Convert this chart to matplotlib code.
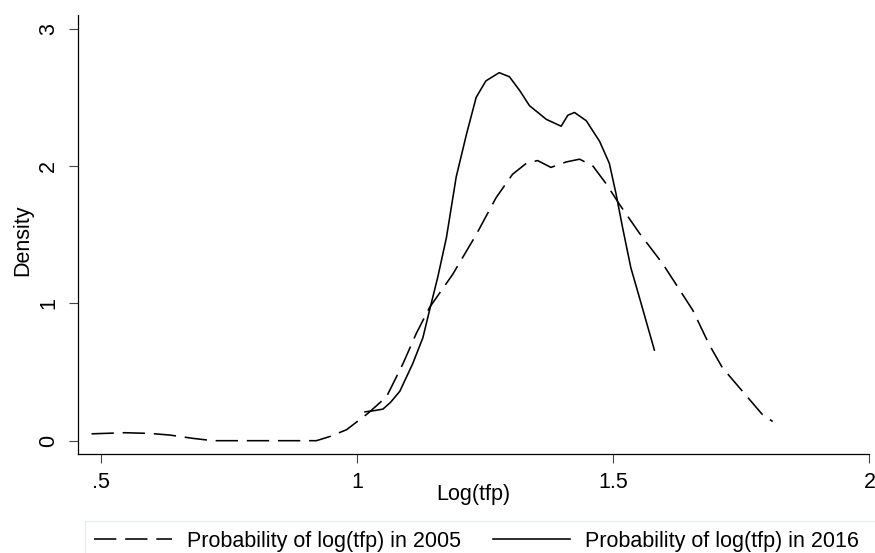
import matplotlib
matplotlib.use("Agg")
import matplotlib.pyplot as plt
from matplotlib.patches import Rectangle

plt.rcParams['font.family'] = ['Liberation Sans', 'DejaVu Sans']

# kernel density of log(tfp), 2005 (dashed)
x_2005 = [0.481, 0.546, 0.595, 0.634, 0.679, 0.718, 0.80, 0.920, 0.946, 0.979,
          1.021, 1.057, 1.089, 1.115, 1.141, 1.186, 1.232, 1.271, 1.303, 1.330,
          1.352, 1.378, 1.408, 1.434, 1.460, 1.486, 1.512, 1.551, 1.596, 1.629,
          1.655, 1.687, 1.713, 1.752, 1.791, 1.811]
y_2005 = [0.050, 0.058, 0.053, 0.041, 0.017, 0.0, 0.0, 0.0, 0.03, 0.08,
          0.20, 0.32, 0.56, 0.78, 0.97, 1.21, 1.50, 1.77, 1.94, 2.02,
          2.04, 1.99, 2.03, 2.05, 2.00, 1.87, 1.72, 1.51, 1.29, 1.10,
          0.95, 0.70, 0.53, 0.36, 0.19, 0.14]

# kernel density of log(tfp), 2016 (solid)
x_2016 = [1.015, 1.035, 1.050, 1.065, 1.083, 1.108, 1.128, 1.141, 1.157, 1.174,
          1.193, 1.213, 1.232, 1.251, 1.277, 1.297, 1.317, 1.336, 1.369, 1.398,
          1.411, 1.424, 1.447, 1.473, 1.492, 1.505, 1.518, 1.534, 1.551, 1.567,
          1.580]
y_2016 = [0.21, 0.22, 0.23, 0.28, 0.36, 0.56, 0.75, 0.95, 1.19, 1.48,
          1.92, 2.23, 2.50, 2.62, 2.68, 2.65, 2.55, 2.44, 2.34, 2.29,
          2.37, 2.39, 2.33, 2.18, 2.02, 1.80, 1.55, 1.26, 1.04, 0.83,
          0.66]

x_ticks = [0.5, 1, 1.5, 2]
x_ticklabels = ['.5', '1', '1.5', '2']
y_ticks = [0, 1, 2, 3]
labels = ['Probability of log(tfp) in 2005', 'Probability of log(tfp) in 2016']

fs = 15.5
fig = plt.figure(figsize=(8.75, 5.53), dpi=100)
ax = fig.add_axes([0.0888, 0.1785, 0.9049, 0.7944])

ax.plot(x_2005, y_2005, color='black', lw=1.15, linestyle=(0, (14, 5.5)), label=labels[0])
ax.plot(x_2016, y_2016, color='black', lw=1.15, label=labels[1])

ax.set_xlim(0.454, 1.998)
ax.set_ylim(-0.099, 3.10)
ax.set_xticks(x_ticks)
ax.set_xticklabels(x_ticklabels)
ax.set_yticks(y_ticks)
ax.set_yticklabels([str(v) for v in y_ticks], rotation=90, va='center')
ax.tick_params(axis='both', length=6.5, width=0.8, labelsize=fs, color='#444444')
ax.tick_params(axis='x', pad=6)
ax.tick_params(axis='y', pad=7)
for s in ['top', 'right']:
    ax.spines[s].set_visible(False)
for s in ['left', 'bottom']:
    ax.spines[s].set_linewidth(0.9)

ax.set_xlabel('Log(tfp)', fontsize=fs)
ax.xaxis.set_label_coords(0.5, -0.068)
ax.set_ylabel('Density', fontsize=fs)
ax.yaxis.set_label_coords(-0.056, 0.488)

# legend box below the plot
fig.patches.append(Rectangle((85 / 875, -0.05), 0.99, (553 - 520.7) / 553 + 0.05,
                             transform=fig.transFigure, fill=False,
                             edgecolor='#e6ecec', lw=1.0))
fig.legend(loc='center left', bbox_to_anchor=(94 / 875, 12 / 553), ncol=2,
           frameon=False, fontsize=fs, handlelength=3.6, handletextpad=0.7,
           columnspacing=1.5, borderpad=0, borderaxespad=0)

fig.savefig('out.png', dpi=100)
